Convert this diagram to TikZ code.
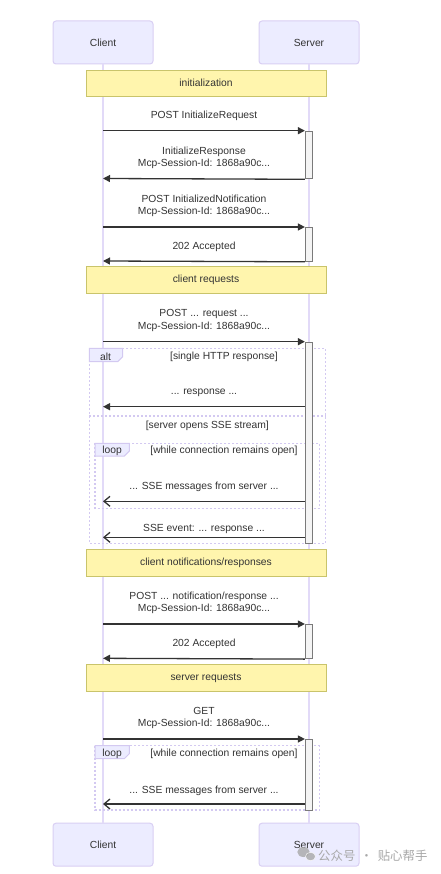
\documentclass[tikz,border=0pt]{standalone}
\usepackage{fontspec}
\setmainfont{Liberation Sans}
\newfontfamily\cjk{Noto Sans CJK SC}
\usetikzlibrary{arrows.meta}
\definecolor{actfill}{HTML}{ECECFF}
\definecolor{actline}{HTML}{D9CFF3}
\definecolor{lifeline}{HTML}{E2DAF8}
\definecolor{notefill}{HTML}{FFF5AD}
\definecolor{noteline}{HTML}{C9C46B}
\definecolor{txt}{HTML}{333333}
\definecolor{actvfill}{HTML}{F4F4F4}
\definecolor{actvline}{HTML}{7A7A7A}
\definecolor{framecol}{HTML}{D3C9F1}
\definecolor{wm}{HTML}{A8A8A8}
\tikzset{
  every node/.style={font=\fontsize{10.3}{12.5}\selectfont, text=txt},
  actor/.style={draw=actline, fill=actfill, rounded corners=3pt, line width=1pt,
    minimum width=100pt, minimum height=43pt, inner sep=0pt},
  notebox/.style={draw=noteline, fill=notefill, line width=0.8pt,
    minimum width=240pt, minimum height=26.5pt, inner sep=0pt},
  actvbox/.style={draw=actvline, fill=actvfill, line width=0.8pt,
    minimum width=7.4pt, inner sep=0pt, anchor=north},
  lline/.style={draw=lifeline, line width=1.5pt},
  msg/.style={draw=txt, line width=1.3pt, -{Triangle[length=7pt,width=7pt]}},
  amsg/.style={draw=txt, line width=1.3pt, -{Straight Barb[length=6pt,width=10pt]}},
  lbl/.style={align=center, inner sep=0pt},
  frm/.style={draw=framecol, line width=1.2pt, dash pattern=on 2pt off 2pt},
  frmlbl/.style={draw=framecol, fill=actfill, line width=1pt},
}
\begin{document}
\begin{tikzpicture}[x=1pt,y=-1pt]
\useasboundingbox[fill=white] (0,0) rectangle (441,874);

% actors
\node[actor] (cT) at (103,42.5) {Client};
\node[actor] (sT) at (309,42.5) {Server};
\node[actor] (cB) at (103,844.7) {Client};
\node[actor] (sB) at (309,844.7) {Server};
\draw[lline] (cT.south) -- (cB.north);
\draw[lline] (sT.south) -- (sB.north);

% frames
\draw[frm] (89.3,348.3) rectangle (325.7,543.3);
\draw[frm] (89.3,416) -- (325.7,416);
\draw[frmlbl] (89.3,348.3) -- (122.7,348.3) -- (122.7,356.7) -- (117.7,361.7) -- (89.3,361.7) -- cycle;
\node[lbl] (altl) at (105.5,356.5) {alt};
\node[lbl] (altc) at (224,356.5) {[single HTTP response]};
\node[lbl] (altc2) at (207.3,425.5) {[server opens SSE stream]};

\draw[frm] (95,443.3) rectangle (319.3,508.7);
\draw[frmlbl] (95,443.3) -- (129.3,443.3) -- (129.3,451) -- (124.3,456) -- (95,456) -- cycle;
\node[lbl] (lp1) at (112,451.3) {loop};
\node[lbl] (lp1c) at (224,451.3) {[while connection remains open]};

\draw[frm] (95,745.7) rectangle (319.3,810);
\draw[frmlbl] (95,745.7) -- (129.3,745.7) -- (129.3,753.7) -- (124.3,758.7) -- (95,758.7) -- cycle;
\node[lbl] (lp2) at (112,753.8) {loop};
\node[lbl] (lp2c) at (224,753.8) {[while connection remains open]};

% notes
\node[notebox] (n1) at (206,83.3) {initialization};
\node[notebox] (n2) at (206,280) {client requests};
\node[notebox] (n3) at (206,562.8) {client notifications/responses};
\node[notebox] (n4) at (206,678) {server requests};

% activations
\node[actvbox, minimum height=47.8pt] (a1) at (309,130.7) {};
\node[actvbox, minimum height=34pt] (a2) at (309,227) {};
\node[actvbox, minimum height=201.6pt] (a3) at (309,341.7) {};
\node[actvbox, minimum height=34.3pt] (a4) at (309,624) {};
\node[actvbox, minimum height=71pt] (a5) at (309,739) {};

% client lifeline points
\coordinate (c1) at (103,130.7);
\coordinate (c2) at (103,178.5);
\coordinate (c3) at (103,227);
\coordinate (c4) at (103,261);
\coordinate (c5) at (103,341.7);
\coordinate (c6) at (103,406.7);
\coordinate (c7) at (103,501.3);
\coordinate (c8) at (103,537.3);
\coordinate (c9) at (103,624);
\coordinate (c10) at (103,658.3);
\coordinate (c11) at (103,739);
\coordinate (c12) at (103,804);

% messages
\node[lbl] (t1) at (204,116.3) {POST InitializeRequest};
\draw[msg] (c1) -- (a1.north west);
\node[lbl] (t2) at (204,157.6) {InitializeResponse\\Mcp-Session-Id: 1868a90c...};
\draw[msg] (a1.south west) -- (c2);
\node[lbl] (t3) at (204,205.8) {POST InitializedNotification\\Mcp-Session-Id: 1868a90c...};
\draw[msg] (c3) -- (a2.north west);
\node[lbl] (t4) at (204,247.3) {202 Accepted};
\draw[msg] (a2.south west) -- (c4);

\node[lbl] (t5) at (204,320.5) {POST ... request ...\\Mcp-Session-Id: 1868a90c...};
\draw[msg] (c5) -- (a3.north west);
\node[lbl] (t6) at (204,392.3) {... response ...};
\draw[msg] (a3.west |- c6) -- (c6);
\node[lbl] (t7) at (204,487.3) {... SSE messages from server ...};
\draw[amsg] (a3.west |- c7) -- (c7);
\node[lbl] (t8) at (204,528.6) {SSE event: ... response ...};
\draw[amsg] (a3.west |- c8) -- (c8);

\node[lbl] (t9) at (204,603) {POST ... notification/response ...\\Mcp-Session-Id: 1868a90c...};
\draw[msg] (c9) -- (a4.north west);
\node[lbl] (t10) at (204,644) {202 Accepted};
\draw[msg] (a4.south west) -- (c10);

\node[lbl] (t11) at (204,718) {GET\\Mcp-Session-Id: 1868a90c...};
\draw[msg] (c11) -- (a5.north west);
\node[lbl] (t12) at (204,790.6) {... SSE messages from server ...};
\draw[amsg] (a5.west |- c12) -- (c12);

% watermark
\fill[wm, opacity=0.8] (303.5,852) ellipse (6.2pt and 5pt);
\fill[wm, opacity=0.8, draw=white, line width=0.6pt] (310.5,856.5) ellipse (5pt and 4.2pt);
\node[lbl, anchor=west, text=wm, font=\cjk\fontsize{12.4}{14}\selectfont] (wmt) at (318,855.5) {公众号\hspace{5pt}·\hspace{5pt}贴心帮手};
\end{tikzpicture}
\end{document}
